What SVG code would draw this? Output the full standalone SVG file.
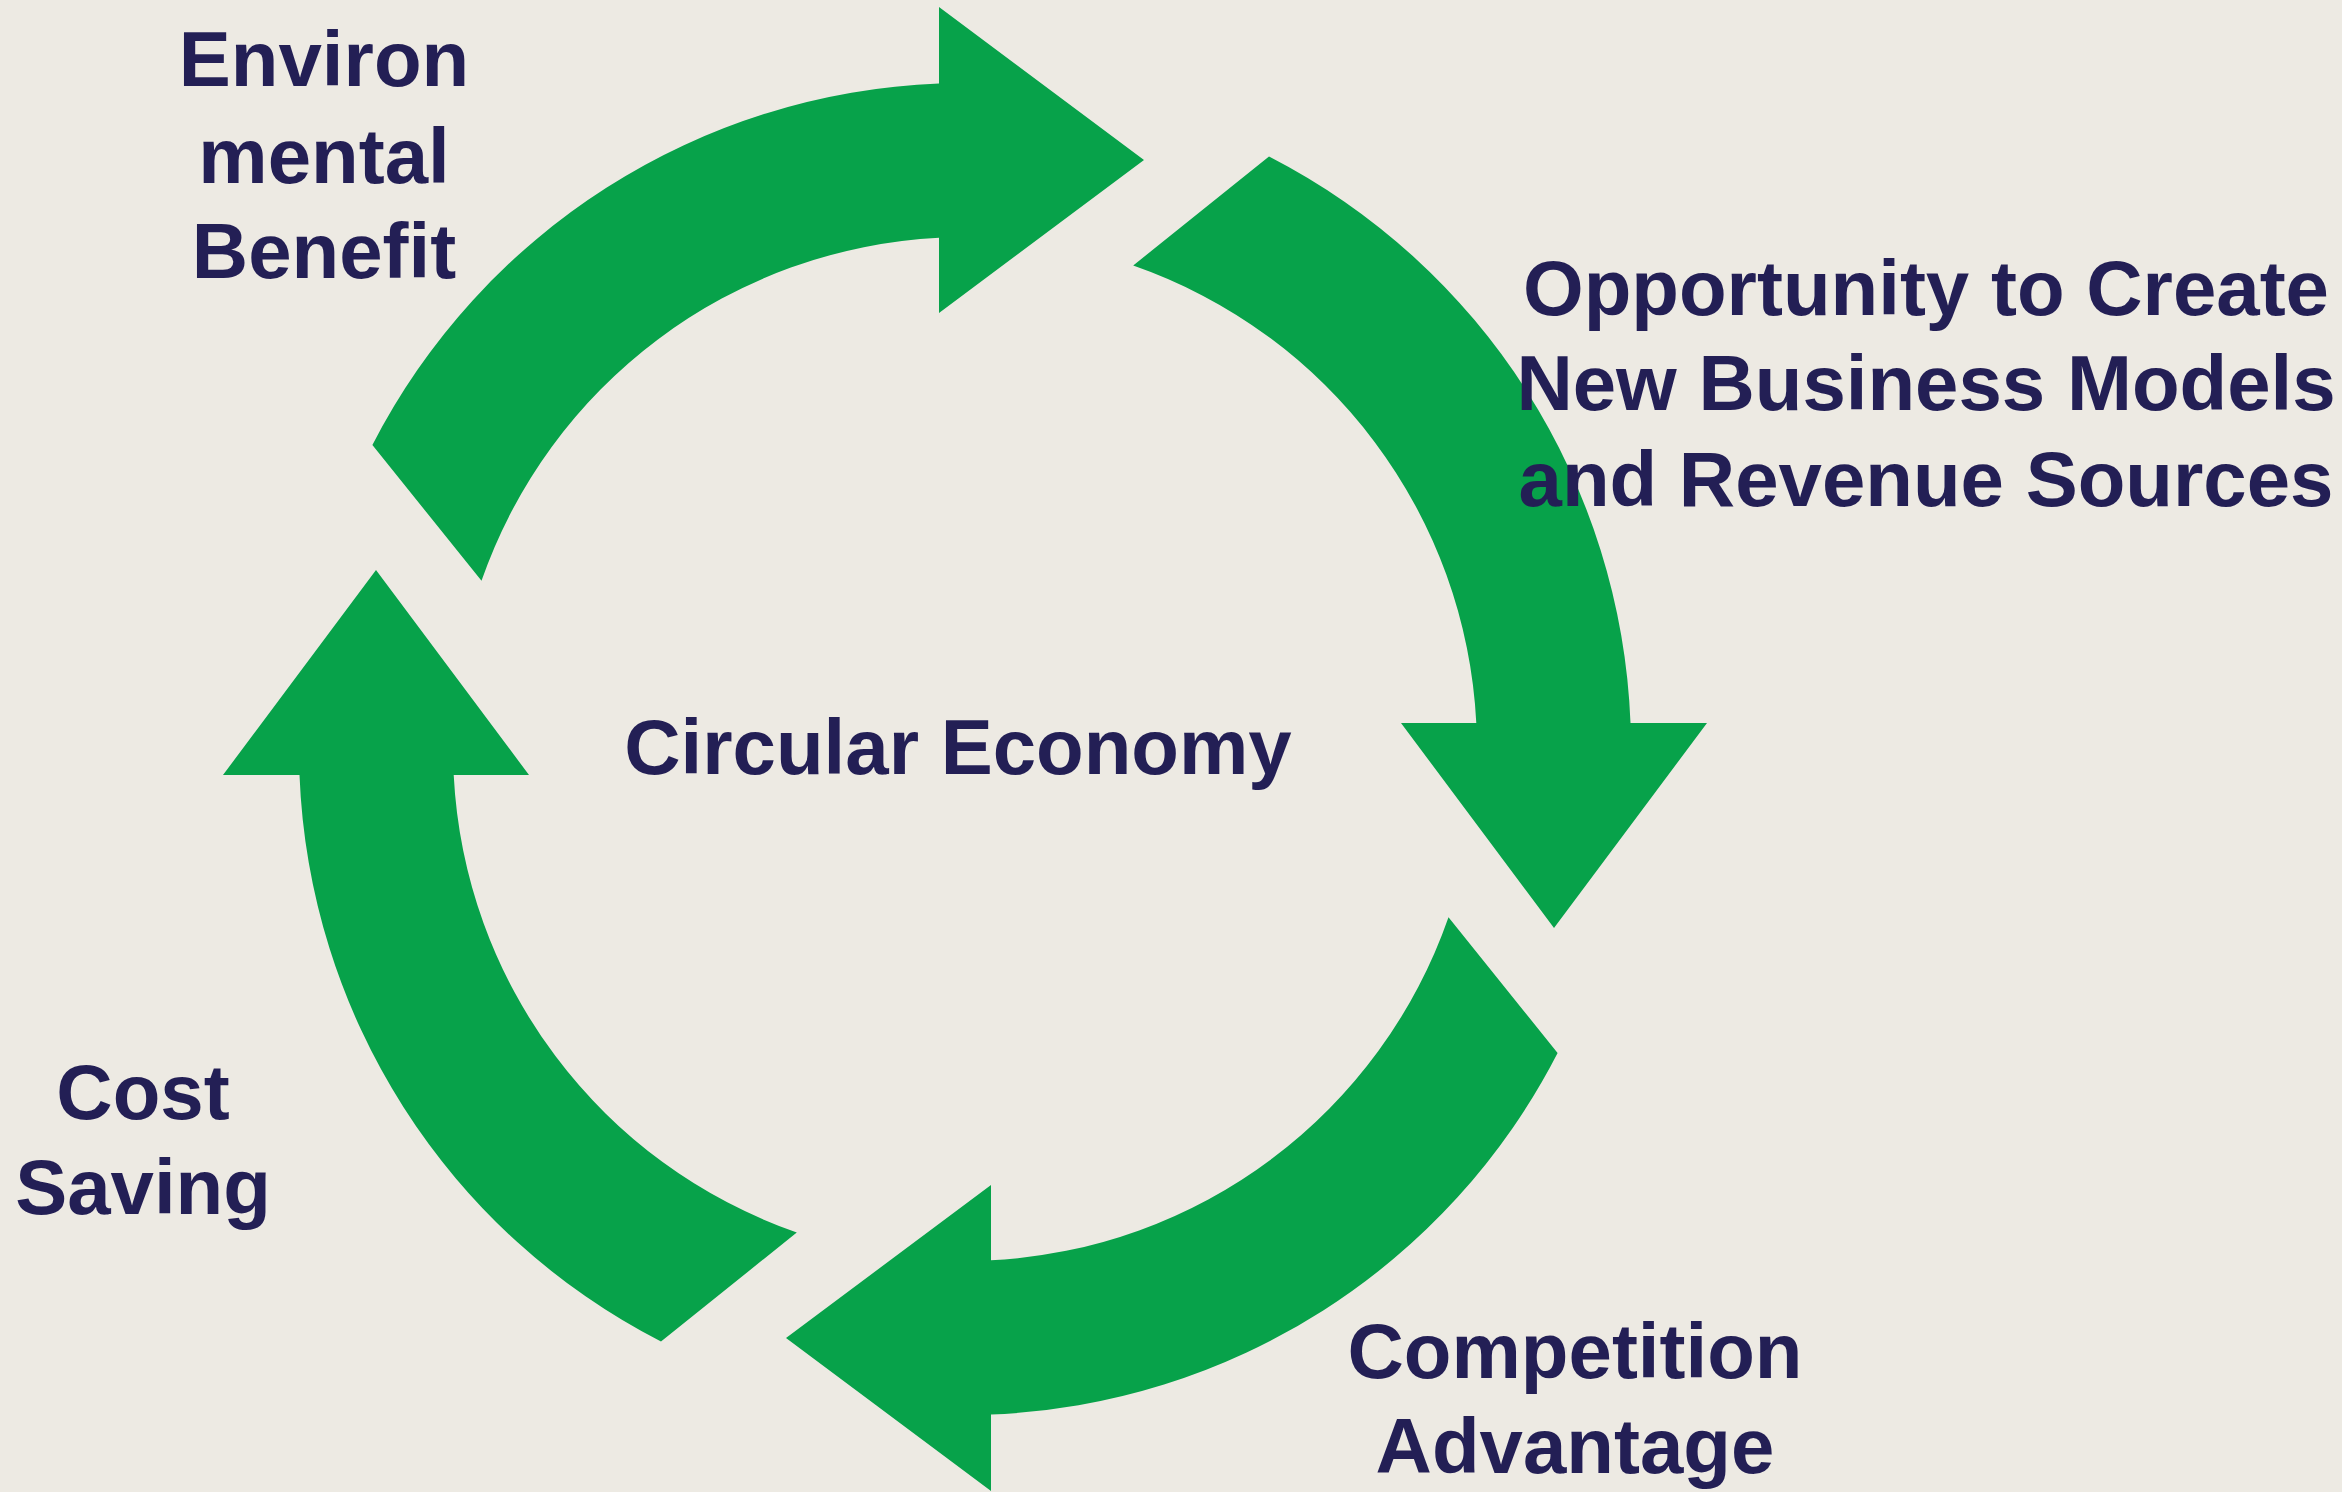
<svg xmlns="http://www.w3.org/2000/svg" xmlns:xlink="http://www.w3.org/1999/xlink" width="2342" height="1492" viewBox="0 0 2342 1492">
<style>
.bg{fill:#EDEAE3}
.arrow{fill:#07A24A}
.lbl{font-family:"Liberation Sans",Arial,sans-serif;font-weight:bold;font-size:78px;fill:#231F55;text-anchor:middle}
</style>
<defs>
<path id="arc-arrow" d="M -592.6 -304 A 666 666 0 0 1 -26 -665.5 L -26 -742 L 179 -589 L -26 -436 L -26 -511.3 A 512 512 0 0 0 -483.5 -168.2 Z"/>
</defs>
<rect class="bg" x="0" y="0" width="2342" height="1492"/>
<g id="connectors">
<use xlink:href="#arc-arrow" class="arrow" transform="translate(965 749)"/>
<use xlink:href="#arc-arrow" class="arrow" transform="translate(965 749) rotate(90)"/>
<use xlink:href="#arc-arrow" class="arrow" transform="translate(965 749) rotate(180)"/>
<use xlink:href="#arc-arrow" class="arrow" transform="translate(965 749) rotate(270)"/>
</g>
<g id="circular-economy"><text class="lbl" x="958" y="774">Circular Economy</text></g>
<g id="environmental-benefit"><text class="lbl" x="324" y="86">Environ</text><text class="lbl" x="324" y="183">mental</text><text class="lbl" x="324" y="278">Benefit</text></g>
<g id="opportunity"><text class="lbl" x="1926" y="315">Opportunity to Create</text><text class="lbl" x="1926" y="410">New Business Models</text><text class="lbl" x="1926" y="506">and Revenue Sources</text></g>
<g id="competition-advantage"><text class="lbl" x="1575" y="1378">Competition</text><text class="lbl" x="1575" y="1473">Advantage</text></g>
<g id="cost-saving"><text class="lbl" x="143" y="1119">Cost</text><text class="lbl" x="143" y="1214">Saving</text></g>
</svg>
